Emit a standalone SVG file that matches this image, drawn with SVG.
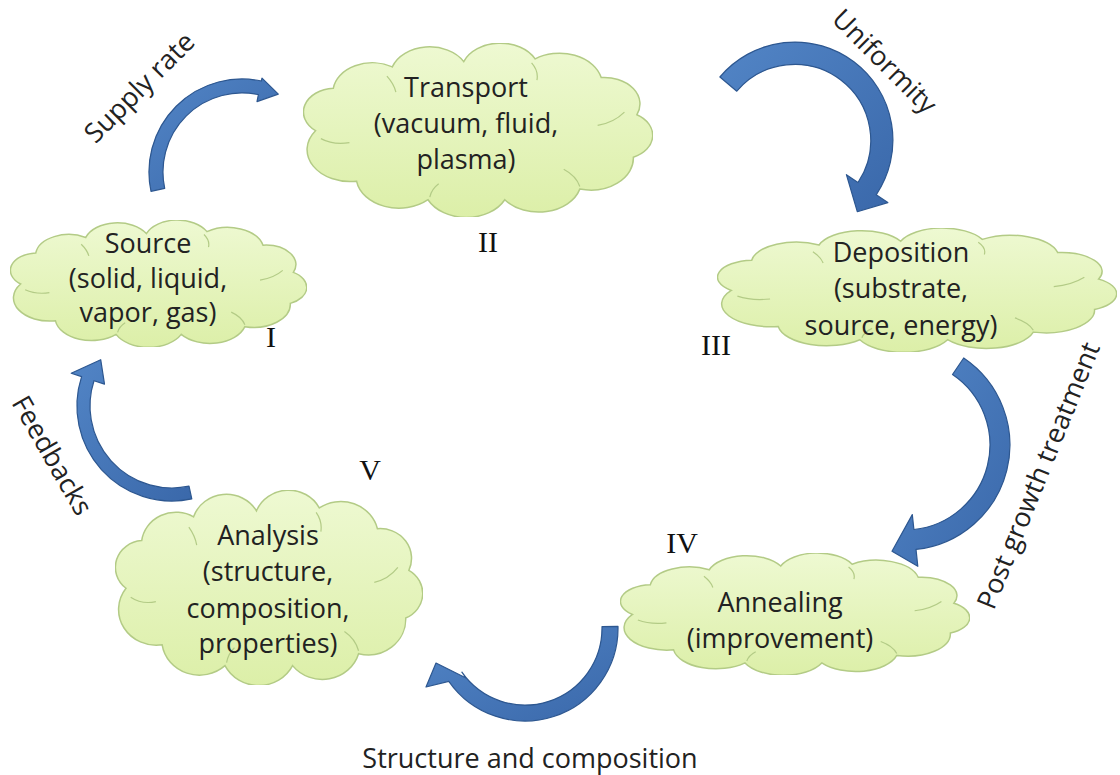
<svg xmlns="http://www.w3.org/2000/svg" xmlns:xlink="http://www.w3.org/1999/xlink" width="1120" height="775" viewBox="0 0 1120 775">
<style>
.t{font-family:"Open Sans","Liberation Sans",sans-serif;font-size:27px;fill:#222;text-anchor:middle}
.rn{font-family:"Liberation Serif",serif;font-size:30px;fill:#111;text-anchor:middle}
.arrow{fill:url(#ag);stroke:#2d5790;stroke-width:1.2;stroke-linejoin:round}
.cl{fill:url(#cg);stroke:#b3cb86;stroke-width:1.5}
.cli{fill:none;stroke:#b3cb86;stroke-width:1.2}
</style>
<defs>
<linearGradient id="cg" x1="0" y1="0" x2="0" y2="1">
<stop offset="0" stop-color="#eef9d2"/>
<stop offset="1" stop-color="#dcefa8"/>
</linearGradient>
<linearGradient id="ag" x1="0" y1="0" x2="1" y2="1">
<stop offset="0" stop-color="#5285c6"/>
<stop offset="1" stop-color="#3a68aa"/>
</linearGradient>
<symbol id="cloud" viewBox="5 -4 196 131" preserveAspectRatio="none">
<path class="cl" vector-effect="non-scaling-stroke" d="M12,62 A18,18 0 0 1 22,30 A22,22 0 0 1 55,14 A22,22 0 0 1 95,10 A22,22 0 0 1 135,8 A24,24 0 0 1 172,22 A20,20 0 0 1 192,50 A18,18 0 0 1 190,82 A24,24 0 0 1 160,106 A24,24 0 0 1 118,114 A24,24 0 0 1 75,114 A24,24 0 0 1 35,100 A24,24 0 0 1 12,62 Z"/>
<path class="cli" vector-effect="non-scaling-stroke" d="M15,68 Q22,73 31,71 M52,21 Q56,27 57,33 M133,11 Q137,17 136,24 M185,48 Q179,56 170,58 M160,104 Q158,96 151,91 M76,112 Q77,106 81,102"/>
</symbol>
</defs>
<rect width="1120" height="775" fill="#ffffff"/>

<g id="node-source">
<use xlink:href="#cloud" x="10" y="220" width="297" height="127"/>
<text class="t" x="148" y="253">Source</text>
<text class="t" x="148" y="288">(solid, liquid,</text>
<text class="t" x="148" y="322">vapor, gas)</text>
<text class="rn" x="271" y="347">I</text>
</g>

<g id="node-transport">
<use xlink:href="#cloud" x="303" y="43" width="350" height="174"/>
<text class="t" x="466" y="97">Transport</text>
<text class="t" x="466" y="133">(vacuum, fluid,</text>
<text class="t" x="466" y="169">plasma)</text>
<text class="rn" x="488" y="252">II</text>
</g>

<g id="node-deposition">
<use xlink:href="#cloud" x="717" y="228" width="400" height="124"/>
<text class="t" x="901" y="262">Deposition</text>
<text class="t" x="901" y="298">(substrate,</text>
<text class="t" x="901" y="335">source, energy)</text>
<text class="rn" x="716" y="355">III</text>
</g>

<g id="node-annealing">
<use xlink:href="#cloud" x="620" y="553" width="350" height="122"/>
<text class="t" x="780" y="612">Annealing</text>
<text class="t" x="780" y="648">(improvement)</text>
<text class="rn" x="682" y="553">IV</text>
</g>

<g id="node-analysis">
<use xlink:href="#cloud" x="115" y="490" width="308" height="195"/>
<text class="t" x="268" y="545">Analysis</text>
<text class="t" x="268" y="581">(structure,</text>
<text class="t" x="268" y="618">composition,</text>
<text class="t" x="268" y="653">properties)</text>
<text class="rn" x="370" y="480">V</text>
</g>

<g id="connectors">
<path class="arrow" d="M151.0,191.3 A93,93 0 0 1 261.3,81.0 L262.0,78.1 L278.3,94.1 L257.0,101.6 L258.4,94.7 A79,79 0 0 0 164.7,188.4 Z"/>
<path class="arrow" d="M719.9,77.0 A98,98 0 0 1 876.2,194.8 L887.8,202.6 L857.3,211.7 L846.4,174.7 L858.0,182.5 A76,76 0 0 0 736.8,91.2 Z"/>
<path class="arrow" d="M963.7,358.0 A105,105 0 0 1 916.0,549.4 L917.8,566.3 L892.0,551.2 L912.3,514.6 L913.9,529.5 A85,85 0 0 0 952.5,374.5 Z"/>
<path class="arrow" d="M618.0,626.4 A93,93 0 0 1 448.8,681.3 L426,687 L436,663 L466,678 L461.9,672.2 A77,77 0 0 0 602.0,626.7 Z"/>
<path class="arrow" d="M191.8,498.9 A95,95 0 0 1 81.6,376.6 L71.2,373.2 L100.7,359.7 L104.5,384.1 L94.0,380.7 A82,82 0 0 0 189.0,486.2 Z"/>
<text class="t" transform="translate(146,94) rotate(-45)">Supply rate</text>
<text class="t" transform="translate(878,68) rotate(45)">Uniformity</text>
<text class="t" transform="translate(1047,479) rotate(-68)">Post growth treatment</text>
<text class="t" transform="translate(44,460) rotate(60)">Feedbacks</text>
<text class="t" x="530" y="768">Structure and composition</text>
</g>
</svg>
